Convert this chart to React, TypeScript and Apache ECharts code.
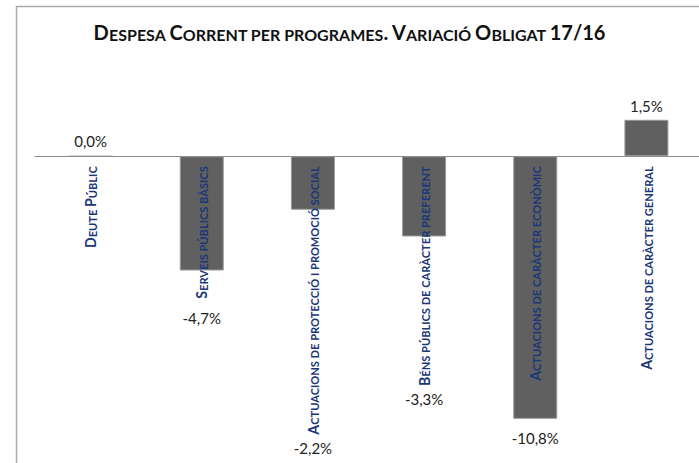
import React, { useEffect, useRef } from "react";
import * as echarts from "echarts";

const titleText = "Despesa Corrent per programes. Variació Obligat 17/16";
const categories = [
  "Deute Públic",
  "Serveis públics bàsics",
  "Actuacions de protecció i promoció social",
  "Béns públics de caràcter preferent",
  "Actuacions de caràcter econòmic",
  "Actuacions de caràcter general",
];
const values = [0.0, -4.7, -2.2, -3.3, -10.8, 1.5];

// label layout (distance from bar end, px) – style only
const labelDistances = [7, 40, 231, 155, 12, 6];

const Y_MIN = -12;
const Y_MAX = 4;
const GRID_TOP = 59;
const GRID_H = 389;
// offset that moves the category axis up onto the zero line
const ZERO_OFFSET = -(GRID_H * (0 - Y_MIN)) / (Y_MAX - Y_MIN);

function smallCaps(s: string, big: string, small: string): string {
  let out = "";
  let cur: string | null = null;
  let buf = "";
  for (const ch of s) {
    let style: string;
    let c = ch;
    if (ch === " ") {
      style = small;
    } else if (ch !== ch.toUpperCase()) {
      style = small;
      c = ch.toUpperCase();
    } else {
      style = big;
    }
    if (style !== cur) {
      if (buf) out += `{${cur}|${buf}}`;
      buf = "";
      cur = style;
    }
    buf += c;
  }
  if (buf) out += `{${cur}|${buf}}`;
  return out;
}

const fmt = (v: number) => v.toFixed(1).replace(".", ",") + "%";

export default function App() {
  const ref = useRef<HTMLDivElement>(null);
  useEffect(() => {
    if (!ref.current) return;
    const chart = echarts.init(ref.current, null, { renderer: "svg" });
    const navy = "#1b3778";
    chart.setOption({
      animation: false,
      backgroundColor: "#ffffff",
      title: {
        text: smallCaps(titleText, "tb", "ts"),
        left: "center",
        top: 22,
        padding: 0,
        textStyle: {
          rich: {
            tb: { fontFamily: "Lato", fontWeight: "bold", fontSize: 20, lineHeight: 20, color: "#111", verticalAlign: "bottom" },
            ts: { fontFamily: "Lato", fontWeight: "bold", fontSize: 16, lineHeight: 20, color: "#111", verticalAlign: "bottom" },
          },
        },
      },
      graphic: [
        {
          type: "rect",
          shape: { x: 16.5, y: 6.5, width: 800, height: 600 },
          style: { fill: "none", stroke: "#ababab", lineWidth: 1.5 },
          silent: true,
        },
      ],
      grid: { left: 35, width: 667, top: GRID_TOP, height: GRID_H, containLabel: false, outerBoundsMode: "none" },
      xAxis: {
        type: "category",
        data: categories,
        offset: ZERO_OFFSET,
        z: 10,
        axisLine: { onZero: false, lineStyle: { color: "#8c8c8c", width: 1.2 } },
        axisTick: { show: false },
        splitLine: { show: false },
        axisLabel: {
          interval: 0,
          rotate: 90,
          margin: 10,
          formatter: (v: string) => smallCaps(v, "cb", "cs"),
          rich: {
            cb: { fontFamily: "Lato", fontWeight: "bold", fontSize: 14.2, lineHeight: 14.2, color: navy, verticalAlign: "bottom" },
            cs: { fontFamily: "Lato", fontWeight: "bold", fontSize: 11.1, lineHeight: 14.2, color: navy, verticalAlign: "bottom" },
          },
        },
      },
      yAxis: {
        type: "value",
        min: Y_MIN,
        max: Y_MAX,
        axisLine: { show: false },
        axisTick: { show: false },
        axisLabel: { show: false },
        splitLine: { show: false },
      },
      series: [
        {
          type: "bar",
          barWidth: 44,
          itemStyle: { color: "#606060", borderColor: "#9a9a9a", borderWidth: 1 },
          data: values.map((v, i) => ({
            value: v,
            label: {
              show: true,
              position: v >= 0 ? "top" : "bottom",
              distance: labelDistances[i],
            },
          })),
          label: {
            show: true,
            formatter: (p: any) => fmt(p.value),
            fontFamily: "Lato",
            fontSize: 15,
            color: "#222",
          },
        },
      ],
    });
    return () => chart.dispose();
  }, []);
  return (
    <div
      ref={ref}
      style={{ position: "fixed", left: 0, top: 0, width: 699, height: 463 }}
    />
  );
}
